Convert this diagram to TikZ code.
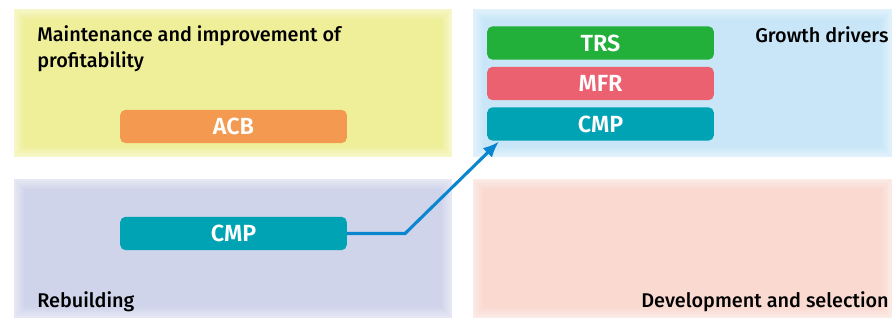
\documentclass[tikz,border=0pt]{standalone}
\usepackage{fontspec}
\setmainfont{Fira Sans}[UprightFont={Fira Sans Medium}, BoldFont={Fira Sans SemiBold}]
\usetikzlibrary{positioning,arrows.meta}
\definecolor{panelYellow}{HTML}{EFEF9A}
\definecolor{panelBlue}{HTML}{C8E6F8}
\definecolor{panelLilac}{HTML}{D0D4EA}
\definecolor{panelPink}{HTML}{F9D9D0}
\definecolor{boxOrange}{HTML}{F39A50}
\definecolor{boxTeal}{HTML}{00A3B4}
\definecolor{boxGreen}{HTML}{22AF3A}
\definecolor{boxRed}{HTML}{EC6170}
\definecolor{arrowBlue}{HTML}{0A85D0}
\tikzset{
  unitbox/.style={fill=#1, rounded corners=4pt, minimum width=170pt, minimum height=25pt,
    inner sep=0pt, text=white, font=\bfseries\fontsize{17.5}{17.5}\selectfont},
  heading/.style={font=\fontsize{14.9}{20}\selectfont, inner sep=0pt, align=left},
}
\begin{document}
\begin{tikzpicture}[x=0.75pt,y=-0.75pt]
  \useasboundingbox (0,0) rectangle (892,323);
  % quadrants, with a soft rim
  \foreach \col/\xa/\ya/\xb/\yb in {panelYellow/14/9/452/157, panelBlue/473/9/892/157,
      panelLilac/14/179/452/318, panelPink/473/179/892/318} {
    \foreach \k in {0,...,5}
      \fill[\col!\the\numexpr 55+9*\k\relax!white] (\xa+2*\k,\ya+2*\k) rectangle (\xb-2*\k,\yb-2*\k);
  }
  % headings
  \node[heading, anchor=north west] (profit) at (37,25) {Maintenance and improvement of\\profitability};
  \node[heading, anchor=west] (growth) at (755,35) {Growth drivers};
  \node[heading, anchor=west] (rebuild) at (37,302) {Rebuilding};
  \node[heading, anchor=east] (develop) at (889,302) {Development and selection};
  % business units
  \node[unitbox=boxOrange] (acb) at (233.5,126.5) {ACB};
  \node[unitbox=boxTeal] (cmpLow) at (233.5,233.5) {CMP};
  \node[unitbox=boxGreen] (trs) at (600.5,43) {TRS};
  \node[unitbox=boxRed] (mfr) at (600.5,83.5) {MFR};
  \node[unitbox=boxTeal] (cmpHigh) at (600.5,124) {CMP};
  % shift
  \draw[arrowBlue, line width=2.3pt, -{Latex[length=12pt,width=10pt]}] (cmpLow.east) -- ++(58,0) -- ([xshift=9pt,yshift=-0.5pt]cmpHigh.south west);
\end{tikzpicture}
\end{document}
